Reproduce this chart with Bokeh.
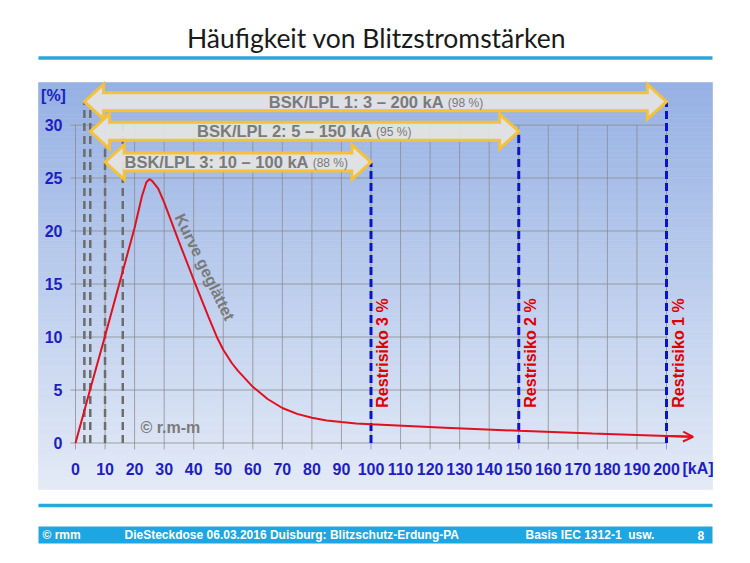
import numpy as np
from bokeh.plotting import figure
from bokeh.models import Range1d, Arrow, OpenHead
from bokeh.core.properties import value
from bokeh.embed import file_html
from bokeh.resources import INLINE

# ---------------- data ----------------
current_ka = [0, 5, 10, 15, 20, 22.5, 24, 25, 26, 28, 30, 35, 40, 45, 48, 50, 53, 55,
              60, 65, 70, 75, 80, 85, 90, 95, 100, 125, 150, 175, 200, 209]
frequency_pct = [0, 5.1, 10.1, 15.2, 20.3, 23.3, 24.6, 24.9, 24.7, 24.0, 22.7, 19.0, 15.4,
                 11.9, 9.9, 8.8, 7.5, 6.8, 5.3, 4.15, 3.3, 2.75, 2.38, 2.13, 1.97, 1.85,
                 1.76, 1.45, 1.15, 0.9, 0.66, 0.58]
x_ticks = list(range(0, 201, 10))
x_tick_labels = [str(v) for v in x_ticks]
y_ticks = [0, 5, 10, 15, 20, 25, 30]
y_tick_labels = [str(v) for v in y_ticks]
class_names = ["BSK/LPL 1: 3 – 200 kA", "BSK/LPL 2: 5 – 150 kA", "BSK/LPL 3: 10 – 100 kA"]
class_share = ["(98 %)", "(95 %)", "(88 %)"]
class_min = [3, 5, 10]
class_max = [200, 150, 100]
risk_labels = ["Restrisiko 1 %", "Restrisiko 2 %", "Restrisiko 3 %"]
min_current_lines = [3, 5, 10, 16]

title_text = "Häufigkeit von Blitzstromstärken"
footer_texts = ["© rmm", "DieSteckdose 06.03.2016 Duisburg: Blitzschutz-Erdung-PA",
                "Basis IEC 1312-1\u00a0\u00a0usw.", "8"]

# ---------------- layout helpers (screen px -> data) ----------------
PX0, KX, PY0, KY, M = 75.0, 2.955, 442.5, 10.6, 0.0
W, H = 734, 547


def sx(px):
    return (px - PX0) / KX


def sy(py):
    return (PY0 - py) / KY


p = figure(width=W, height=H, output_backend="svg", toolbar_location=None,
           x_range=Range1d(sx(M), sx(M + W)), y_range=Range1d(sy(M + H), sy(M)),
           x_axis_location=None, y_axis_location=None, min_border=0,
           outline_line_color=None, background_fill_color="white",
           border_fill_color="white")
p.grid.visible = False

# panel gradient
n = 90
yb, yt = sy(489), sy(82)
ys = np.linspace(yb, yt, n + 1)
c_bot = np.array([228, 235, 247])
c_top = np.array([150, 177, 228])
cols = []
for i in range(n):
    t = (i + 0.5) / n
    c = (c_bot * (1 - t) + c_top * t).astype(int)
    cols.append("#%02x%02x%02x" % tuple(c))
p.quad(left=sx(38), right=sx(712), bottom=ys[:-1], top=ys[1:], fill_color=cols,
       line_color=cols, line_width=0.6)

# title and lines
p.text(x=[sx(376)], y=[sy(37)], text=[title_text], text_align="center",
       text_baseline="middle", text_font=value("Lato"), text_font_size="26.5px",
       text_color="#1a1a1a")
p.segment(x0=[sx(38), sx(38)], y0=[sy(57.5), sy(505)], x1=[sx(712), sx(712)],
          y1=[sy(57.5), sy(505)], line_color="#2ba6d8", line_width=3.5)

# footer
p.quad(left=sx(38), right=sx(712), bottom=sy(543), top=sy(526), fill_color="#1ea6e2",
       line_color=None)
fx = [sx(42), sx(124), sx(525), sx(697)]
p.text(x=fx, y=[sy(534.5)] * 4, text=footer_texts, text_align="left",
       text_baseline="middle", text_font=value("Liberation Sans"),
       text_font_size="12px", text_font_style="bold", text_color="white")

# grid
p.segment(x0=x_ticks, y0=[-0.6] * len(x_ticks), x1=x_ticks, y1=[30] * len(x_ticks),
          line_color="#8a8a8a", line_alpha=0.75, line_width=1)
p.segment(x0=[-1.7] * len(y_ticks), y0=y_ticks, x1=[200] * len(y_ticks), y1=y_ticks,
          line_color="#8a8a8a", line_alpha=0.75, line_width=1)

# tick labels
tick_font = value("Liberation Sans")
tick_size = "16px"
p.text(x=x_ticks, y=[sy(468)] * len(x_ticks), text=x_tick_labels, text_align="center",
       text_baseline="middle", text_font=tick_font, text_font_size=tick_size,
       text_font_style="bold", text_color="#1e1ec4")
p.text(x=[sx(682)], y=[sy(468)], text=["[kA]"], text_align="left",
       text_baseline="middle", text_font=tick_font, text_font_size=tick_size,
       text_font_style="bold", text_color="#1e1ec4")
p.text(x=[sx(62)] * len(y_ticks), y=y_ticks, text=y_tick_labels, text_align="right",
       text_baseline="middle", text_font=tick_font, text_font_size=tick_size,
       text_font_style="bold", text_color="#1e1ec4")
p.text(x=[sx(53)], y=[sy(95)], text=["[%]"], text_align="center",
       text_baseline="middle", text_font=tick_font, text_font_size=tick_size,
       text_font_style="bold", text_color="#1e1ec4")

# minimum-current gray dashed lines
p.segment(x0=min_current_lines, y0=[0] * 4, x1=min_current_lines,
          y1=[32.2, 31.5, 28.5, 30.6], line_color="#6c6c6c", line_width=2.5,
          line_dash="8 5")

# arrows (class ranges)
arrow_y = [32.2, 29.4, 26.5]
hl, hh, sh = 6.5, 1.65, 0.85
axs, ays = [], []
for x0, x1, yc in zip(class_min, class_max, arrow_y):
    axs.append([x0, x0 + hl, x0 + hl, x1 - hl, x1 - hl, x1, x1 - hl, x1 - hl, x0 + hl, x0 + hl])
    ays.append([yc, yc + hh, yc + sh, yc + sh, yc + hh, yc, yc - hh, yc - sh, yc - sh, yc - hh])

# blue dashed class limit lines
p.segment(x0=class_max, y0=[0] * 3, x1=class_max, y1=arrow_y, line_color="#0a14cc",
          line_width=3, line_dash="8 4")

p.patches(xs=axs, ys=ays, fill_color="#e3e3e3", fill_alpha=0.95, line_color="#f3c13a",
          line_width=3, line_join="miter")
main_right = [sx(443.5), sx(371.7), sx(308.3)]
p.text(x=main_right, y=arrow_y, text=class_names, text_align="right",
       text_baseline="middle", text_font=value("Liberation Sans"), text_font_size="16.5px",
       text_font_style="bold", text_color="#7a7a7a")
p.text(x=[v + 1.3 for v in main_right], y=[y - 0.1 for y in arrow_y], text=class_share,
       text_align="left", text_baseline="middle", text_font=value("Liberation Sans"),
       text_font_size="12px", text_color="#7a7a7a")

# curve
p.line(current_ka, frequency_pct, line_color="#e0101e", line_width=2)
p.add_layout(Arrow(end=OpenHead(size=10, line_color="#e0101e", line_width=2),
                   line_color="#e0101e", line_width=2,
                   x_start=current_ka[-2], y_start=frequency_pct[-2],
                   x_end=current_ka[-1], y_end=frequency_pct[-1]))

# labels
p.text(x=[m + 3.9 for m in class_max], y=[3.33] * 3, text=risk_labels, angle=np.pi / 2,
       text_align="left", text_baseline="middle", text_font=value("Liberation Sans"),
       text_font_size="16px", text_font_style="bold", text_color="#e00000")
p.text(x=[43.7], y=[16.6], text=["Kurve geglättet"], angle=-64 * np.pi / 180,
       text_align="center", text_baseline="middle", text_font=value("Liberation Sans"),
       text_font_size="16px", text_font_style="bold", text_color="#7a7a7a")
p.text(x=[22], y=[1.45], text=["© r.m-m"], text_align="left", text_baseline="middle",
       text_font=value("Liberation Sans"), text_font_size="16px", text_font_style="bold",
       text_color="#7a7a7a")

open("out.html", "w").write(file_html(p, INLINE))
